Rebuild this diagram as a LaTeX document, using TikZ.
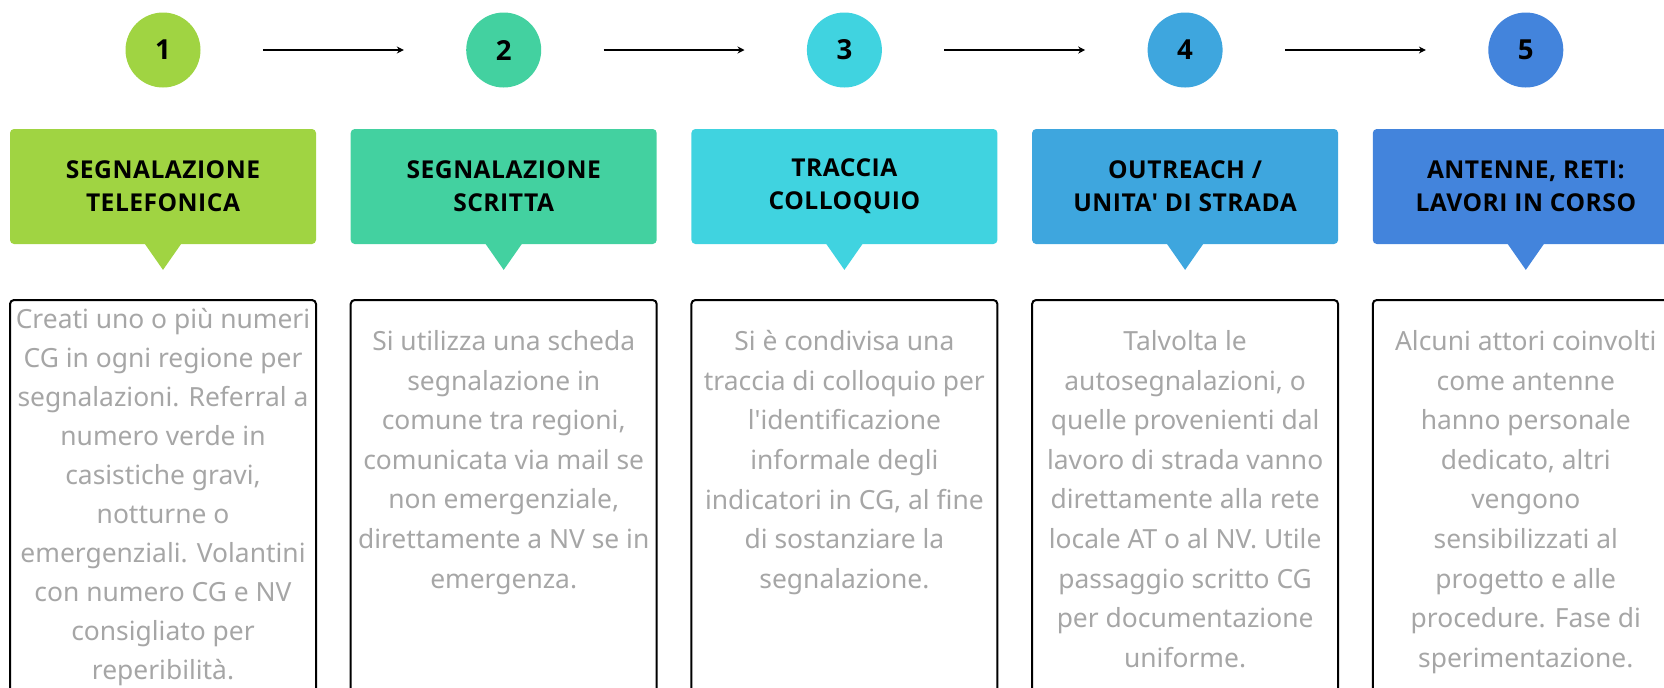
\documentclass[tikz,border=0pt]{standalone}
\usepackage{fontspec}
\setmainfont{Noto Sans}
\newfontfamily\headFamily[LetterSpace=2]{Open Sans}
\newfontfamily\numFamily{Open Sans}
\usetikzlibrary{arrows.meta}
\definecolor{stepA}{HTML}{A0D442}
\definecolor{stepB}{HTML}{43D1A0}
\definecolor{stepC}{HTML}{40D3E0}
\definecolor{stepD}{HTML}{3EA6DE}
\definecolor{stepE}{HTML}{4384DC}
\definecolor{noteGray}{HTML}{A6A6A6}
\newcommand{\bodyFont}[0]{\fontsize{13.2}{19.8}\selectfont}
\newcommand{\headFont}[0]{\headFamily\bfseries\fontsize{12.3}{16.5}\selectfont}
\newcommand{\numFont}[0]{\numFamily\bfseries\fontsize{13.8}{16}\selectfont}
\newcommand{\pointer}[2]{\fill[#1] ([xshift=-9.25pt,yshift=0.5pt]#2.south) -- ([yshift=-12.75pt]#2.south) -- ([xshift=9.25pt,yshift=0.5pt]#2.south) -- cycle;}

\begin{document}
\begin{tikzpicture}[x=0.5pt, y=-0.5pt]
  \tikzset{
    stepdot/.style={circle, minimum size=37.5pt, inner sep=0pt, font=\numFont},
    headbox/.style={rectangle, rounded corners=2pt, minimum width=153pt, minimum height=57.5pt, inner sep=0pt, align=center, font=\headFont},
    notebox/.style={rectangle, draw=black, line width=1pt, rounded corners=2pt, minimum width=153pt, minimum height=250pt, inner sep=0pt, anchor=north},
    notetext/.style={align=center, anchor=north, inner sep=0pt, text=noteGray, font=\bodyFont},
    flow/.style={-{Stealth[length=3.5pt,width=3.5pt]}, line width=0.9pt, shorten <=31pt, shorten >=31pt}
  }
  \clip (0,0) rectangle (1664,687);
  % numbered steps
  \node[stepdot, fill=stepA] (c1) at (163,50) {1};
  \node[stepdot, fill=stepB] (c2) at (503.7,50) {2};
  \node[stepdot, fill=stepC] (c3) at (844.4,50) {3};
  \node[stepdot, fill=stepD] (c4) at (1185.1,50) {4};
  \node[stepdot, fill=stepE] (c5) at (1525.8,50) {5};
  \draw[flow] (c1) -- (c2);
  \draw[flow] (c2) -- (c3);
  \draw[flow] (c3) -- (c4);
  \draw[flow] (c4) -- (c5);
  % headings
  \node[headbox, fill=stepA] (h1) at (163,186.5) {SEGNALAZIONE\\TELEFONICA};
  \node[headbox, fill=stepB] (h2) at (503.7,186.5) {SEGNALAZIONE\\SCRITTA};
  \node[headbox, fill=stepC] (h3) at (844.4,186.5) {TRACCIA\\COLLOQUIO};
  \node[headbox, fill=stepD] (h4) at (1185.1,186.5) {OUTREACH /\\UNITA\textquotesingle{} DI STRADA};
  \node[headbox, fill=stepE] (h5) at (1525.8,186.5) {ANTENNE, RETI:\\LAVORI IN CORSO};
  \pointer{stepA}{h1}
  \pointer{stepB}{h2}
  \pointer{stepC}{h3}
  \pointer{stepD}{h4}
  \pointer{stepE}{h5}
  % notes
  \node[notebox] (b1) at (163,299) {};
  \node[notebox] (b2) at (503.7,299) {};
  \node[notebox] (b3) at (844.4,299) {};
  \node[notebox] (b4) at (1185.1,299) {};
  \node[notebox] (b5) at (1525.8,299) {};
  \node[notetext, font=\fontsize{13.2}{19.5}\selectfont] (t1) at (163,308) {Creati uno o più numeri\\CG in ogni regione per\\segnalazioni. Referral a\\numero verde in\\casistiche gravi,\\notturne o\\emergenziali. Volantini\\con numero CG e NV\\consigliato per\\reperibilità.};
  \node[notetext] (t2) at (503.7,330) {Si utilizza una scheda\\segnalazione in\\comune tra regioni,\\comunicata via mail se\\non emergenziale,\\direttamente a NV se in\\emergenza.};
  \node[notetext] (t3) at (844.4,330) {Si è condivisa una\\traccia di colloquio per\\l\textquotesingle identificazione\\informale degli\\indicatori in CG, al fine\\di sostanziare la\\segnalazione.};
  \node[notetext] (t4) at (1185.1,330) {Talvolta le\\autosegnalazioni, o\\quelle provenienti dal\\lavoro di strada vanno\\direttamente alla rete\\locale AT o al NV. Utile\\passaggio scritto CG\\per documentazione\\uniforme.};
  \node[notetext] (t5) at (1525.8,330) {Alcuni attori coinvolti\\come antenne\\hanno personale\\dedicato, altri\\vengono\\sensibilizzati al\\progetto e alle\\procedure. Fase di\\sperimentazione.};
\end{tikzpicture}
\end{document}
